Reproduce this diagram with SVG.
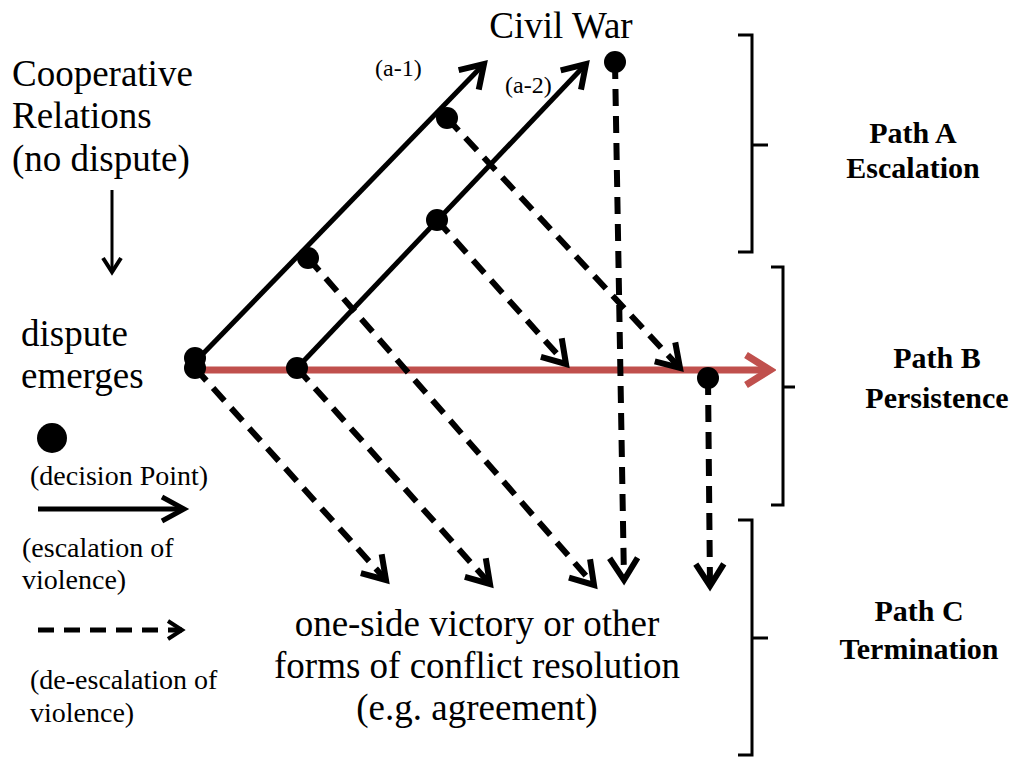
<svg xmlns="http://www.w3.org/2000/svg" width="1014" height="759" viewBox="0 0 1014 759">
<style>
.t{font-family:"Liberation Serif","Times New Roman",serif;fill:#000}
.big{font-size:37px}
.sm{font-size:28px}
.xs{font-size:24px}
.b{font-size:30px;font-weight:bold;text-anchor:middle}
.solid{stroke:#000;stroke-width:5;fill:none}
.dash{stroke:#000;stroke-width:6;fill:none;stroke-dasharray:17 10}
.red{stroke:#c0504d;stroke-width:7;fill:none}
.br{stroke:#000;stroke-width:3;fill:none}
</style>
<defs>
<marker id="ah" markerUnits="userSpaceOnUse" viewBox="-30 -20 36 40" refX="0" refY="0" markerWidth="36" markerHeight="40" orient="auto">
<path d="M-22,-14 L0,0 L-22,14" stroke="#000" stroke-width="6" fill="none"/>
</marker>
<marker id="ahs" markerUnits="userSpaceOnUse" viewBox="-20 -14 26 28" refX="0" refY="0" markerWidth="26" markerHeight="28" orient="auto">
<path d="M-14,-9 L0,0 L-14,9" stroke="#000" stroke-width="4" fill="none"/>
</marker>
<marker id="ahl" markerUnits="userSpaceOnUse" viewBox="-30 -20 36 40" refX="0" refY="0" markerWidth="36" markerHeight="40" orient="auto">
<path d="M-22,-12 L0,0 L-22,12" stroke="#000" stroke-width="5" fill="none"/>
</marker>
<marker id="ahr" markerUnits="userSpaceOnUse" viewBox="-30 -20 36 40" refX="0" refY="0" markerWidth="36" markerHeight="40" orient="auto">
<path d="M-24,-15 L0,0 L-24,15" stroke="#c0504d" stroke-width="7" fill="none"/>
</marker>
</defs>

<g id="connectors">
<line class="red" x1="195" y1="370" x2="770" y2="370" marker-end="url(#ahr)"/>
<line class="solid" x1="195" y1="362" x2="484" y2="64" marker-end="url(#ah)"/>
<line class="solid" x1="297" y1="368" x2="586" y2="64" marker-end="url(#ah)"/>
<line class="dash" x1="195" y1="368" x2="386" y2="580" marker-end="url(#ah)"/>
<line class="dash" x1="297" y1="368" x2="490" y2="584" marker-end="url(#ah)"/>
<line class="dash" x1="308" y1="258" x2="594" y2="585" marker-end="url(#ah)"/>
<line class="dash" x1="437" y1="220" x2="566" y2="364" marker-end="url(#ah)"/>
<line class="dash" x1="447" y1="118" x2="680" y2="368" marker-end="url(#ah)"/>
<line class="dash" x1="615" y1="62" x2="624" y2="580" marker-end="url(#ah)"/>
<line class="dash" x1="708" y1="378" x2="710" y2="586" marker-end="url(#ah)"/>
<line x1="112" y1="190" x2="112" y2="272" stroke="#000" stroke-width="3" marker-end="url(#ahs)"/>
</g>

<g id="dots" fill="#000">
<circle cx="195" cy="358" r="11"/>
<circle cx="195" cy="368" r="11"/>
<circle cx="297" cy="368" r="11"/>
<circle cx="308" cy="258" r="11"/>
<circle cx="447" cy="118" r="11"/>
<circle cx="437" cy="220" r="11"/>
<circle cx="615" cy="62" r="11"/>
<circle cx="708" cy="378" r="11"/>
</g>

<g id="civil-war"><text class="t big" x="561" y="38" text-anchor="middle">Civil War</text></g>
<g id="cooperative">
<text class="t big" x="12" y="86">Cooperative</text>
<text class="t big" x="12" y="128">Relations</text>
<text class="t big" x="12" y="171">(no dispute)</text>
</g>
<g id="dispute">
<text class="t big" x="21" y="346">dispute</text>
<text class="t big" x="21" y="388">emerges</text>
</g>
<g id="labels-a">
<text class="t xs" x="375" y="76">(a-1)</text>
<text class="t xs" x="505" y="93">(a-2)</text>
</g>
<g id="resolution">
<text class="t big" x="477" y="636" text-anchor="middle">one-side victory or other</text>
<text class="t big" x="477" y="678" text-anchor="middle">forms of conflict resolution</text>
<text class="t big" x="477" y="720" text-anchor="middle">(e.g. agreement)</text>
</g>

<g id="legend">
<circle cx="52" cy="438" r="15" fill="#000"/>
<text class="t sm" x="30" y="485">(decision Point)</text>
<line x1="38" y1="509" x2="184" y2="509" stroke="#000" stroke-width="5" marker-end="url(#ahl)"/>
<text class="t sm" x="22" y="557">(escalation of</text>
<text class="t sm" x="22" y="589">violence)</text>
<line x1="38" y1="630" x2="182" y2="630" stroke="#000" stroke-width="5" stroke-dasharray="16 10" marker-end="url(#ahs)"/>
<text class="t sm" x="30" y="689">(de-escalation of</text>
<text class="t sm" x="30" y="722">violence)</text>
</g>

<g id="path-a">
<path class="br" d="M738,35 H752 V252 H738 M752,145 H768"/>
<text class="t b" x="913" y="143">Path A</text>
<text class="t b" x="913" y="178">Escalation</text>
</g>
<g id="path-b">
<path class="br" d="M771,267 H783 V505 H771 M783,387 H795"/>
<text class="t b" x="937" y="368">Path B</text>
<text class="t b" x="937" y="408">Persistence</text>
</g>
<g id="path-c">
<path class="br" d="M738,520 H752 V755 H738 M752,638 H768"/>
<text class="t b" x="919" y="621">Path C</text>
<text class="t b" x="919" y="659">Termination</text>
</g>
</svg>
